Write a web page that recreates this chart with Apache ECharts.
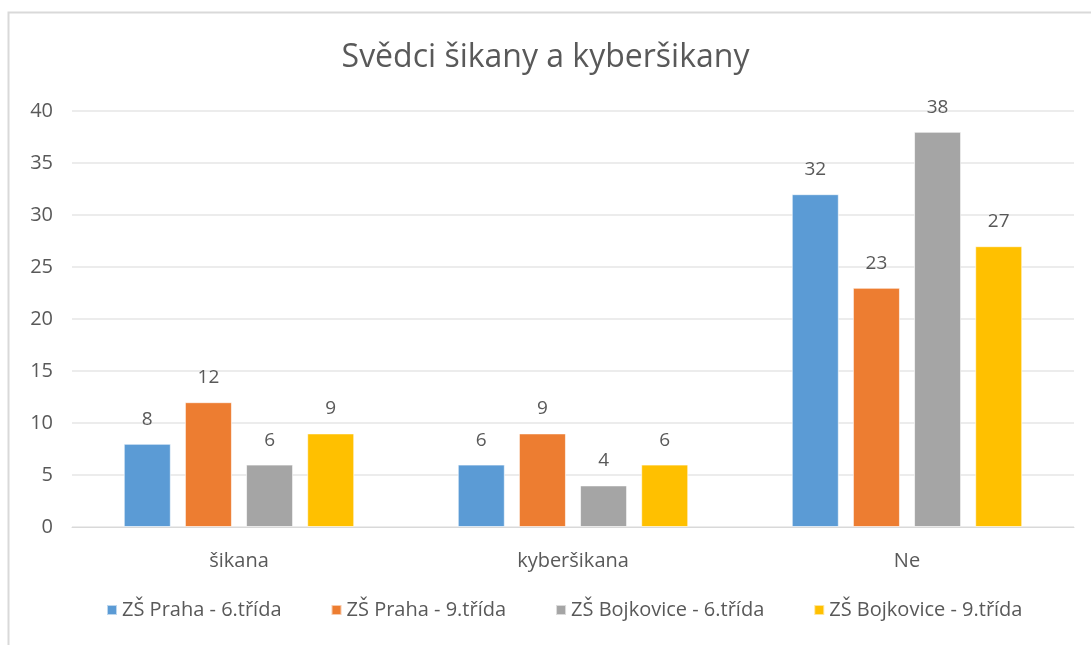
<!DOCTYPE html>
<html><head><meta charset="utf-8">
<script src="https://cdn.jsdelivr.net/npm/echarts@6/dist/echarts.min.js"></script>
<style>html,body{margin:0;padding:0;background:#fff}#c{width:1091px;height:645px}</style>
</head><body><div id="c"></div>
<script>
const title = 'Svědci šikany a kyberšikany';
const categories = ['šikana', 'kyberšikana', 'Ne'];
const seriesNames = ['ZŠ Praha - 6.třída', 'ZŠ Praha - 9.třída', 'ZŠ Bojkovice - 6.třída', 'ZŠ Bojkovice - 9.třída'];
const praha6 = [8, 6, 32];
const praha9 = [12, 9, 23];
const bojkovice6 = [6, 4, 38];
const bojkovice9 = [9, 6, 27];
const colors = ['#5B9BD5', '#ED7D31', '#A5A5A5', '#FFC000'];
const yTicks = {min: 0, max: 40, interval: 5};

const FONT = 'Open Sans';
const values = [praha6, praha9, bojkovice6, bojkovice9];
const chart = echarts.init(document.getElementById('c'));
chart.setOption({
  animation: false,
  color: colors,
  textStyle: {fontFamily: FONT},
  title: {text: title, left: 'center', top: 37,
    textStyle: {fontFamily: FONT, fontSize: 32, fontWeight: 'normal', color: '#595959'}},
  graphic: [{type: 'rect', shape: {x: 8.5, y: 12.5, width: 1100, height: 700},
    style: {fill: 'none', stroke: '#d9d9d9', lineWidth: 2}, silent: true}],
  legend: {bottom: 20, left: 101, itemWidth: 10, itemHeight: 10, itemGap: 49, icon: 'rect',
    textStyle: {fontFamily: FONT, fontSize: 20, color: '#595959'}},
  grid: {left: 72, right: 17, top: 111, bottom: 118},
  xAxis: {type: 'category', data: categories,
    axisLine: {lineStyle: {color: '#d9d9d9'}}, axisTick: {show: false},
    axisLabel: {fontFamily: FONT, fontSize: 20, color: '#595959', margin: 24}},
  yAxis: {type: 'value', min: yTicks.min, max: yTicks.max, interval: yTicks.interval,
    axisLine: {show: false}, axisTick: {show: false},
    axisLabel: {fontFamily: FONT, fontSize: 20, color: '#595959', margin: 19},
    splitLine: {lineStyle: {color: '#e6e6e6', width: 1.5}}},
  series: seriesNames.map((n, i) => ({
    name: n, type: 'bar', data: values[i],
    barGap: '30%', barCategoryGap: '31%',
    itemStyle: {borderColor: 'rgba(255,255,255,0.6)', borderWidth: 1},
    label: {show: true, position: 'top', distance: 15, fontFamily: FONT, fontSize: 19, color: '#595959'}
  }))
});
</script></body></html>
